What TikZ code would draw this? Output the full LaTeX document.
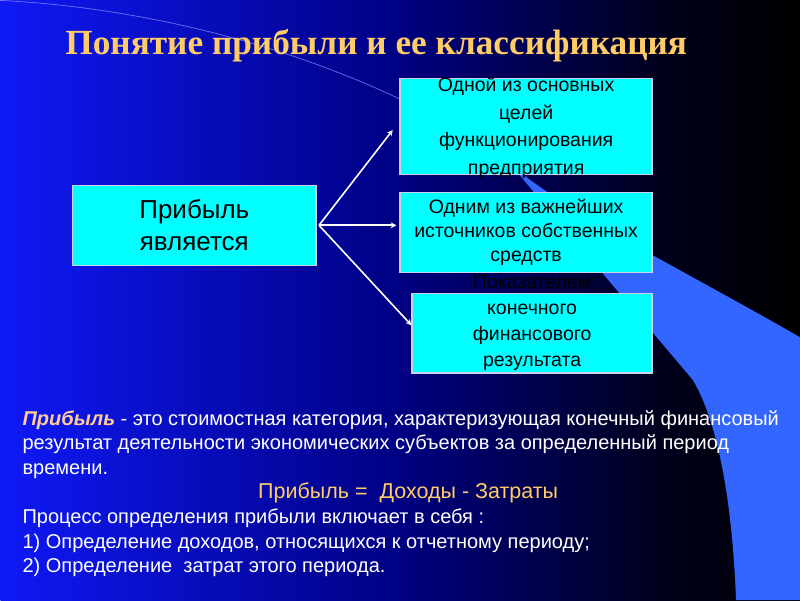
\documentclass[tikz,border=0pt]{standalone}
\usepackage{fontspec}
\setmainfont{Liberation Sans}
\newfontfamily\titlefont{Liberation Serif}
\usepackage{tikz}
\usetikzlibrary{positioning, arrows}

\definecolor{bgleft}{RGB}{15,25,245}
\definecolor{bgmid}{RGB}{0,0,130}
\definecolor{bgdark}{RGB}{0,0,30}
\definecolor{swoosh}{RGB}{51,102,255}
\definecolor{boxfill}{RGB}{0,255,255}
\definecolor{boxline}{RGB}{200,210,235}
\definecolor{titlegold}{RGB}{255,204,102}
\definecolor{wordpeach}{RGB}{255,204,153}

\pgfdeclarehorizontalshading{slidebg}{100bp}{color(0bp)=(bgleft); color(25bp)=(bgleft); color(50bp)=(bgmid); color(66bp)=(bgdark); color(75bp)=(black); color(100bp)=(black)}

\tikzstyle{titletext} = [text=titlegold, font=\titlefont\bfseries\fontsize{35.3}{40}\selectfont]
\tikzstyle{mainbox} = [rectangle, minimum width=244pt, minimum height=80pt, inner sep=0pt, draw=boxline, line width=1.5pt, fill=boxfill, align=center, text=black, font=\fontsize{26}{31.5}\selectfont]
\tikzstyle{sidebox} = [rectangle, minimum width=252pt, minimum height=80pt, inner sep=0pt, draw=boxline, line width=1.5pt, fill=boxfill, align=center, text=black, font=\fontsize{19.5}{24}\selectfont]
\tikzstyle{boxtext} = [align=center, text=black, inner sep=0pt, font=\fontsize{19.5}{27.5}\selectfont]
\tikzstyle{bodytext} = [align=left, text=white, inner sep=0pt, font=\fontsize{20}{24.5}\selectfont]
\tikzstyle{arrow} = [line width=1.6pt, draw=white, ->, >=stealth]

\begin{document}
\begin{tikzpicture}[x=1pt, y=-1pt, node distance=106pt]

% slide background
\shade[shading=slidebg] (0,0) rectangle (800,600);
\draw[blue!45!white, opacity=0.7, line width=0.8pt] (0,0) .. controls (200,10) and (400,80) .. (512,166);
\fill[swoosh] (512,166) .. controls (580,220) and (680,268) .. (800,337) -- (800,600) -- (736,600) .. controls (733,520) and (722,430) .. (693,380) -- cycle;

\node (title) [titletext] at (376,45) {Понятие прибыли и ее классификация};

\node (profit) [mainbox] at (194,225) {Прибыль\\является};
\node (goal) [sidebox, minimum height=96pt] at (526,126) {};
\node (sources) [sidebox, below of=goal] {Одним из важнейших\\источников собственных\\средств};
\node (result) [sidebox, below of=sources, xshift=6pt, yshift=5pt, minimum width=240pt] {};
\node (goaltext) [boxtext] at ([yshift=-1.5pt]goal.center) {Одной из основных\\целей\\функционирования\\предприятия};
\node (resulttext) [boxtext, font=\fontsize{19.5}{26}\selectfont] at ([yshift=10pt]result.center) {Показателем\\конечного\\финансового\\результата};

\coordinate (fork) at ([xshift=2pt]profit.east);
\draw [arrow, shorten >=11pt] (fork) -- ([yshift=5pt]goal.west);
\draw [arrow, shorten >=3pt] (fork) -- (fork -| sources.west);
\draw [arrow] (fork) -- ([yshift=8pt]result.west);

\node (definition) [bodytext, anchor=west] at (22,444) {\textcolor{wordpeach}{\textbf{\textit{Прибыль}}} - это стоимостная категория, характеризующая конечный финансовый\\результат деятельности экономических субъектов за определенный период\\времени.};
\node (formula) [bodytext, text=titlegold, font=\fontsize{21.5}{24.5}\selectfont] at (408,493) {Прибыль =\ \ Доходы - Затраты};
\node (process) [bodytext, anchor=west] at (22,543) {Процесс определения прибыли включает в себя :\\1) Определение доходов, относящихся к отчетному периоду;\\2) Определение\ \ затрат этого периода.};

\end{tikzpicture}
\end{document}
